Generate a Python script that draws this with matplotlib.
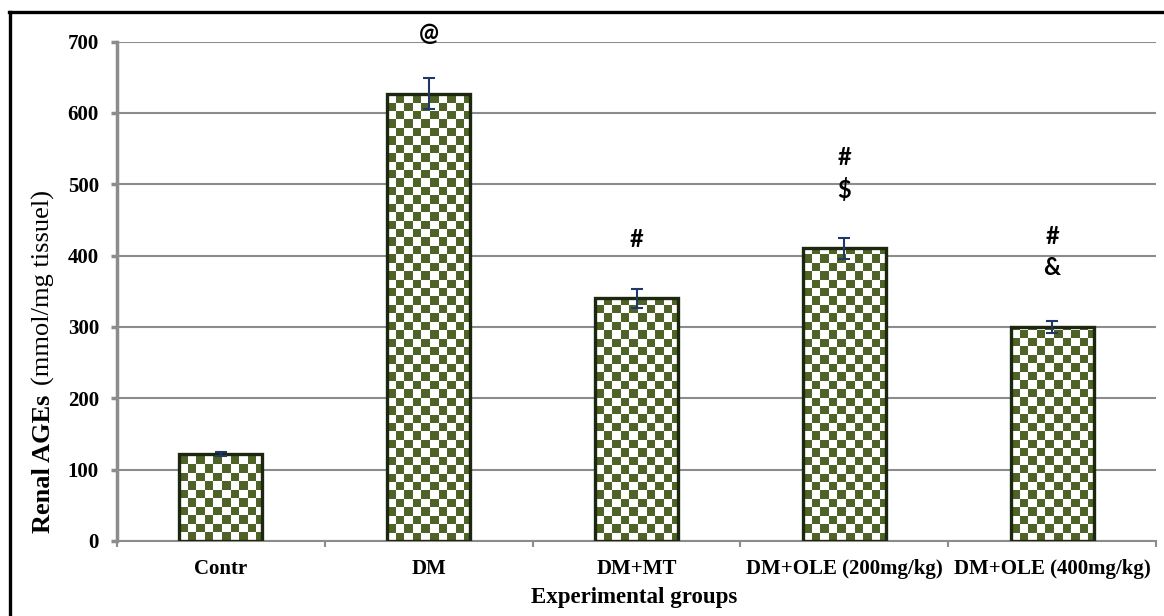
import numpy as np
import matplotlib
matplotlib.use("Agg")
import matplotlib.pyplot as plt
from matplotlib.colors import ListedColormap
from matplotlib.lines import Line2D

groups = ["Contr", "DM", "DM+MT", "DM+OLE (200mg/kg)", "DM+OLE (400mg/kg)"]
ages = [122, 627, 340, 410, 300]
sem = [3, 22, 13, 15, 9]
marks = [[], [("@", 711)], [("#", 422)], [("#", 538), ("$", 492)], [("#", 427), ("&", 383)]]

W, H = 1164, 616
fig = plt.figure(figsize=(W / 100, H / 100), dpi=100)
ax = fig.add_axes([117 / W, 1 - 541 / H, (1156 - 117) / W, (541 - 41.5) / H])

green = "#4f6228"
edge = "#1d2710"
grid_c = "#8c8c8c"
serif = "Liberation Serif"

x = np.arange(len(groups)) + 0.5
bw = 0.4
bars = ax.bar(x, ages, width=bw, facecolor="none", edgecolor=edge, linewidth=2.4, zorder=4)

# checkerboard fill, clipped to each bar
dx, dy = 0.041, 11.8
cmap = ListedColormap(["white", green])
for rect, v in zip(bars, ages):
    left = rect.get_x()
    nc = int(np.ceil(bw / dx))
    nr = int(np.ceil(v / dy))
    board = (np.add.outer(np.arange(nr), np.arange(nc)) % 2)[::-1]
    im = ax.imshow(board, cmap=cmap, extent=(left, left + nc * dx, 0, nr * dy),
                   aspect="auto", interpolation="nearest", zorder=3, origin="upper")
    im.set_clip_path(rect)

ax.errorbar(x, ages, yerr=sem, fmt="none", ecolor="#1f3864",
            elinewidth=1.5, capsize=4.5, capthick=1.5, zorder=5)

for xi, ms in zip(x, marks):
    for s, yv in ms:
        ax.text(xi, yv, s, ha="center", va="center", fontsize=17, fontweight="bold",
                family="Lato", clip_on=False, zorder=6)

ax.set_xlim(0, len(groups))
ax.set_ylim(0, 700)
ax.set_yticks(np.arange(0, 701, 100))
ax.yaxis.grid(True, color=grid_c, linewidth=1.5, zorder=0)
ax.set_axisbelow(True)
ax.set_xticks(x)
ax.set_xticklabels(groups)
ax.set_xticks(np.arange(len(groups) + 1), minor=True)
ax.tick_params(axis="x", which="major", length=0, pad=13)
ax.tick_params(axis="x", which="minor", length=4, width=1.5, color=grid_c, direction="out")
ax.tick_params(axis="y", length=4, width=2.5, color=grid_c, pad=9)
for lab in ax.get_xticklabels() + ax.get_yticklabels():
    lab.set_family(serif)
    lab.set_fontweight("bold")
    lab.set_fontsize(15)

for side in ["top", "right"]:
    ax.spines[side].set_visible(False)
ax.spines["left"].set_color(grid_c)
ax.spines["left"].set_linewidth(2.5)
ax.spines["bottom"].set_color(grid_c)
ax.spines["bottom"].set_linewidth(1.5)

fig.text(634 / W, 1 - 598 / H, "Experimental groups", ha="center", va="center",
         family=serif, fontweight="bold", fontsize=16.5)

t1 = fig.text(43 / W, 1 - 533 / H, "Renal AGEs", rotation=90, ha="center", va="bottom",
              family=serif, fontweight="bold", fontsize=19)
fig.canvas.draw()
top = t1.get_window_extent().y1
fig.text(43 / W, (top + 10) / H, "(mmol/mg tissuel)", rotation=90, ha="center", va="bottom",
         family=serif, fontsize=19)

# outer frame (left and top edges)
fig.add_artist(Line2D([9.5 / W, 9.5 / W], [0, 1 - 12 / H], color="black", linewidth=2.4,
                      transform=fig.transFigure))
fig.add_artist(Line2D([8.5 / W, 1], [1 - 12 / H, 1 - 12 / H], color="black", linewidth=2.4,
                      transform=fig.transFigure))

fig.savefig("out.png", dpi=100)
